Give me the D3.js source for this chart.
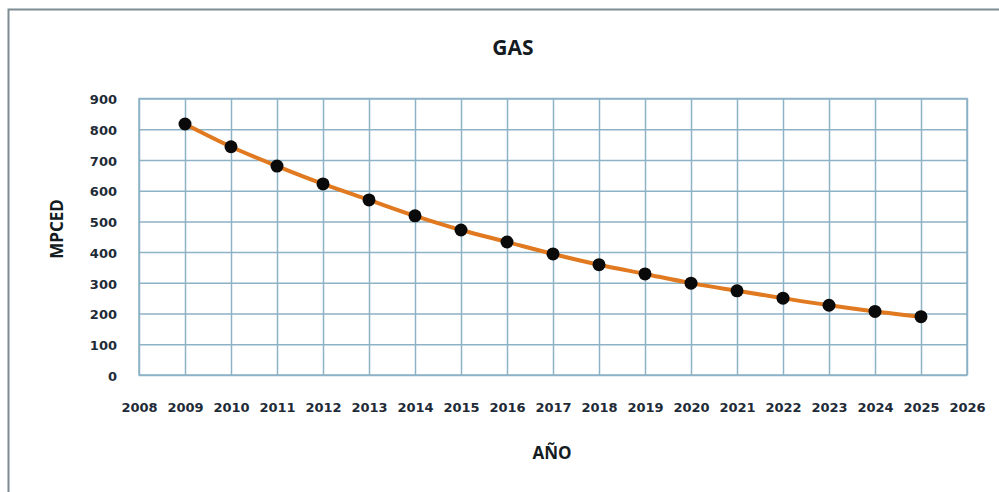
<!DOCTYPE html>
<html>
<head>
<meta charset="utf-8">
<script src="https://cdn.jsdelivr.net/npm/d3@7/dist/d3.min.js"></script>
<style>
  html, body { margin: 0; padding: 0; background: #fff; }
  svg { display: block; }
  .tick text { font-family: "DejaVu Sans", Verdana, sans-serif; font-weight: bold; font-size: 13px; fill: #1e2b37; }
</style>
</head>
<body>
<svg id="chart" width="999" height="492"></svg>
<script>
// Projected gas production (MPCED) per year
const years = [2009, 2010, 2011, 2012, 2013, 2014, 2015, 2016, 2017, 2018, 2019, 2020, 2021, 2022, 2023, 2024, 2025];
const gas = [817, 743, 680, 622, 570, 518, 472, 433, 394, 359, 329, 299, 274, 250, 227, 207, 190];
const xTicks = d3.range(2008, 2027);
const yTicks = [0, 100, 200, 300, 400, 500, 600, 700, 800, 900];

const svg = d3.select("#chart");
const W = 999, H = 492;
const plot = { left: 139, right: 967, top: 98.5, bottom: 375 };

// outer frame (top and left edges)
svg.append("path")
  .attr("d", `M8.5,${H} L8.5,9.5 L${W},9.5`)
  .attr("fill", "none").attr("stroke", "#7d8b94").attr("stroke-width", 2);

const x = d3.scaleLinear().domain([2008, 2026]).range([plot.left, plot.right]);
const y = d3.scaleLinear().domain([0, 900]).range([plot.bottom, plot.top]);

const gridColor = "#8db2c6";

// vertical gridlines + year labels
const xAxis = svg.append("g")
  .attr("transform", `translate(0,${plot.bottom})`)
  .call(d3.axisBottom(x).tickValues(xTicks).tickFormat(d3.format("d"))
    .tickSize(-(plot.bottom - plot.top)).tickPadding(28));
xAxis.select(".domain").remove();
xAxis.selectAll(".tick line").attr("stroke", gridColor).attr("stroke-width", 1.5);

// horizontal gridlines + value labels
const yAxis = svg.append("g")
  .attr("transform", `translate(${plot.left},0)`)
  .call(d3.axisLeft(y).tickValues(yTicks)
    .tickSize(-(plot.right - plot.left)).tickPadding(22));
yAxis.select(".domain").remove();
yAxis.selectAll(".tick line").attr("stroke", gridColor).attr("stroke-width", 1.5);
yAxis.selectAll(".tick text").attr("dy", "0.4em");

// plot border
svg.append("rect")
  .attr("x", plot.left).attr("y", plot.top)
  .attr("width", plot.right - plot.left).attr("height", plot.bottom - plot.top)
  .attr("fill", "none").attr("stroke", gridColor).attr("stroke-width", 1.5);

const pts = years.map((yr, i) => [yr, gas[i]]);

// smoothed series line
svg.append("path")
  .datum(pts)
  .attr("d", d3.line().x(d => x(d[0])).y(d => y(d[1])).curve(d3.curveMonotoneX))
  .attr("fill", "none").attr("stroke", "#e0791f").attr("stroke-width", 4);

// markers
svg.append("g").selectAll("circle")
  .data(pts).join("circle")
  .attr("cx", d => x(d[0])).attr("cy", d => y(d[1]))
  .attr("r", 6.5).attr("fill", "#0a0a0a");

// titles
svg.append("text")
  .attr("x", 513).attr("y", 55).attr("text-anchor", "middle")
  .attr("font-family", "'Open Sans', 'Noto Sans', sans-serif").attr("font-weight", "bold")
  .attr("font-size", 21).attr("fill", "#141c22").text("GAS");

svg.append("text")
  .attr("transform", "translate(63,229) rotate(-90)").attr("text-anchor", "middle")
  .attr("font-family", "'Open Sans', 'Noto Sans', sans-serif").attr("font-weight", "bold")
  .attr("font-size", 17).attr("fill", "#141c22").text("MPCED");

svg.append("text")
  .attr("x", 552).attr("y", 459).attr("text-anchor", "middle")
  .attr("font-family", "'Open Sans', 'Noto Sans', sans-serif").attr("font-weight", "bold")
  .attr("font-size", 17).attr("fill", "#141c22").text("AÑO");
</script>
</body>
</html>
